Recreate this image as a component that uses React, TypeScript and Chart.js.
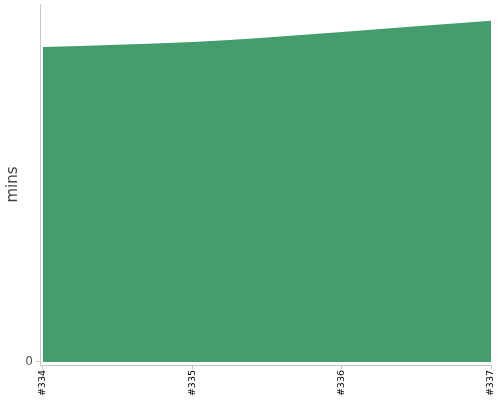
import React, { useEffect, useRef } from "react";
import { Chart, registerables } from "chart.js";

Chart.register(...registerables);

const categories = ["#334", "#335", "#336", "#337"];
const durations = [88.0, 89.4, 92.2, 95.3];
const yTickValues = [0];

export default function App() {
  const ref = useRef<HTMLCanvasElement | null>(null);
  useEffect(() => {
    if (!ref.current) return;
    const chart = new Chart(ref.current, {
      type: "line",
      data: {
        datasets: [
          {
            data: durations.map((v, i) => ({ x: i, y: v })),
            fill: "origin",
            backgroundColor: "#459c6c",
            borderColor: "#459c6c",
            borderWidth: 0,
            pointRadius: 0,
            cubicInterpolationMode: "monotone",
          },
        ],
      },
      options: {
        animation: false,
        responsive: false,
        layout: { padding: { top: 4, right: 9, left: 0, bottom: 0 } },
        plugins: { legend: { display: false }, tooltip: { enabled: false } },
        scales: {
          x: {
            type: "linear",
            min: -0.02,
            max: 3,
            afterBuildTicks: (s: any) => {
              s.ticks = categories.map((_, i) => ({ value: i }));
            },
            afterFit: (s: any) => {
              s.height = 35;
              s.paddingLeft = 0;
              s.paddingRight = 0;
            },
            ticks: {
              autoSkip: false,
              minRotation: 90,
              maxRotation: 90,
              padding: 1,
              color: "#000",
              font: { family: "DejaVu Sans", size: 9.5 },
              callback: (v: any) => categories[Math.round(Number(v))] ?? "",
            },
            grid: {
              drawOnChartArea: false,
              drawTicks: true,
              tickLength: 4,
              color: "#c8c8c8",
            },
            border: { display: true, color: "#c8c8c8", width: 1 },
          },
          y: {
            min: -0.85,
            max: 100,
            afterBuildTicks: (s: any) => {
              s.ticks = yTickValues.map((v) => ({ value: v }));
            },
            afterFit: (s: any) => {
              s.width = 40;
              s.paddingTop = 0;
              s.paddingBottom = 0;
            },
            ticks: {
              padding: 3,
              color: "#555",
              font: { family: "DejaVu Sans", size: 12 },
            },
            grid: {
              drawOnChartArea: false,
              drawTicks: true,
              tickLength: 4,
              color: "#c8c8c8",
            },
            border: { display: true, color: "#c8c8c8", width: 1 },
            title: {
              display: true,
              text: "mins",
              color: "#444",
              padding: { top: 4, bottom: 0 },
              font: { family: "DejaVu Sans", size: 15 },
            },
          },
        },
      },
    });
    return () => chart.destroy();
  }, []);
  return (
    <div style={{ position: "absolute", left: 0, top: 0, width: 500, height: 400 }}>
      <canvas ref={ref} width={500} height={400} style={{ width: 500, height: 400 }} />
    </div>
  );
}
